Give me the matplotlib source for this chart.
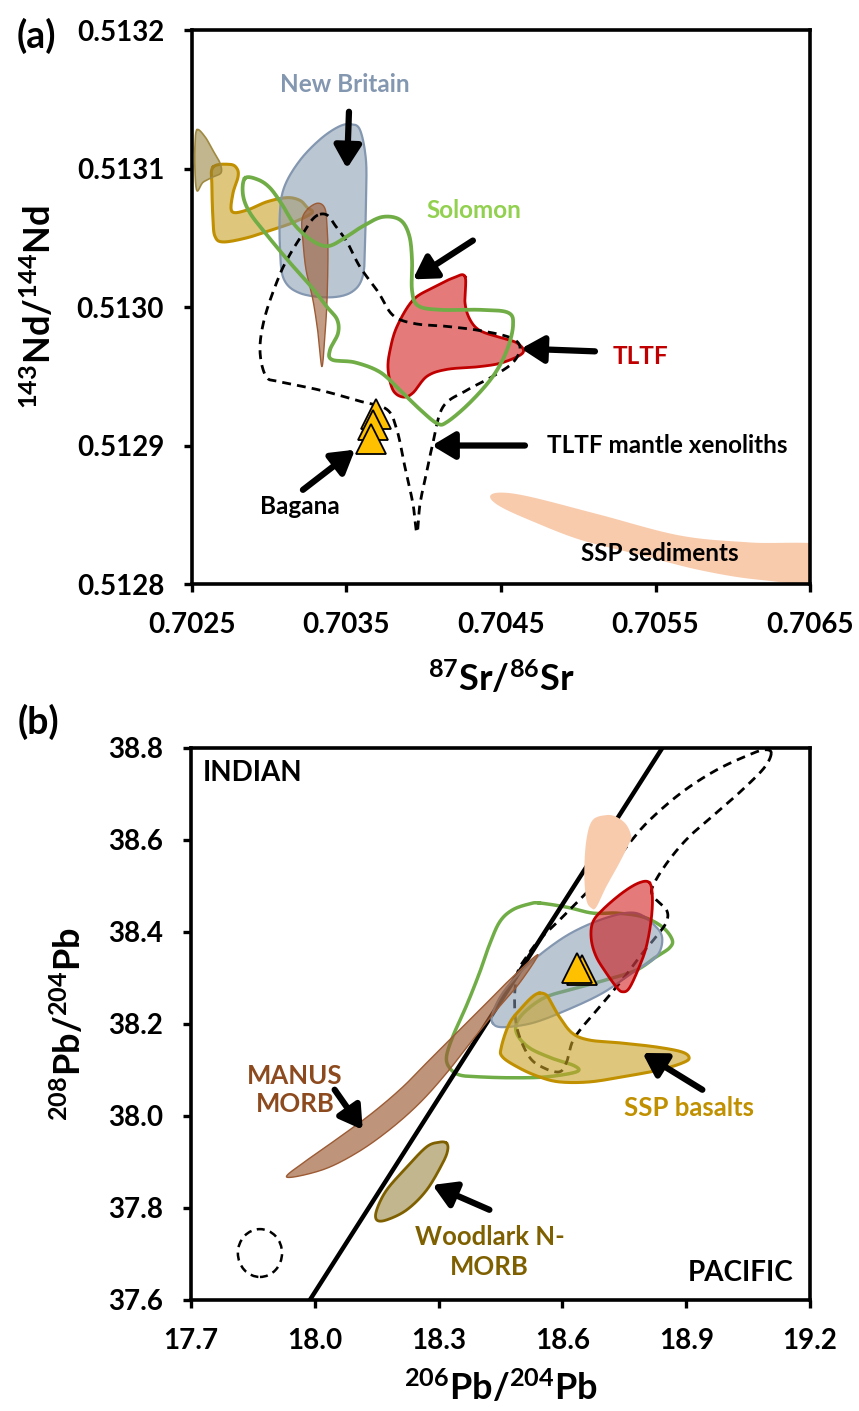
import numpy as np
import matplotlib.pyplot as plt
from matplotlib.patches import Ellipse

plt.rcParams['font.family'] = ['Lato', 'DejaVu Sans']
plt.rcParams['font.weight'] = 'bold'
plt.rcParams['mathtext.fontset'] = 'custom'
plt.rcParams['mathtext.bf'] = 'Lato:bold'
plt.rcParams['mathtext.rm'] = 'Lato:bold'
plt.rcParams['mathtext.default'] = 'bf'

# ---------------- (a) Sr-Nd field outlines ----------------
nb_sr = [0.703523, 0.703587, 0.703626, 0.703626, 0.70362, 0.703607, 0.703536, 0.703393,
         0.703199, 0.703095, 0.70307, 0.70307, 0.703102, 0.703199, 0.703328, 0.703445]
nb_nd = [0.513132, 0.513128, 0.513106, 0.513077, 0.513048, 0.513023, 0.513011, 0.513007,
         0.51301, 0.51302, 0.513041, 0.51307, 0.513088, 0.513106, 0.513121, 0.51313]

manus_a_sr = [0.703251, 0.703316, 0.703361, 0.703374, 0.70338, 0.703374, 0.703361, 0.703341,
              0.703316, 0.703283, 0.703238, 0.703218, 0.703212]
manus_a_nd = [0.513071, 0.513075, 0.513071, 0.513058, 0.513039, 0.513005, 0.512981, 0.512957,
              0.512981, 0.513005, 0.513027, 0.513048, 0.513063]

ssp_a_sr = [0.702636, 0.702746, 0.702791, 0.702798, 0.702765, 0.702759, 0.702856, 0.702985,
            0.703115, 0.703199, 0.703244, 0.703277, 0.703154, 0.703024, 0.702856, 0.702701,
            0.702649, 0.702636, 0.702629]
ssp_a_nd = [0.513101, 0.513103, 0.5131, 0.513094, 0.513082, 0.513069, 0.51307, 0.513076,
            0.513079, 0.513077, 0.513072, 0.513068, 0.513061, 0.513056, 0.51305, 0.513047,
            0.513051, 0.513063, 0.513087]

wood_a_sr = [0.702532, 0.702584, 0.702636, 0.702681, 0.702688, 0.702636, 0.702571, 0.702532,
             0.702519, 0.702519]
wood_a_nd = [0.513128, 0.513123, 0.513113, 0.513104, 0.513097, 0.513094, 0.51309, 0.513084,
             0.513099, 0.513116]

sol_a_sr = [0.702843, 0.702927, 0.703005, 0.703083, 0.703167, 0.703277, 0.70338, 0.70349,
            0.7036, 0.70373, 0.703846, 0.703905, 0.703924, 0.703924, 0.703963, 0.704105,
            0.704364, 0.704545, 0.704578, 0.704539, 0.704448, 0.704299, 0.704151, 0.704086,
            0.703976, 0.703846, 0.703717, 0.703555, 0.703406, 0.703393, 0.703445, 0.703439,
            0.703374, 0.703277, 0.703134, 0.702985, 0.702875, 0.70283]
sol_a_nd = [0.513093, 0.513092, 0.513086, 0.513074, 0.513059, 0.513048, 0.513044, 0.51305,
            0.513058, 0.513065, 0.513063, 0.513052, 0.513034, 0.513012, 0.513001, 0.512998,
            0.512998, 0.512996, 0.512987, 0.512969, 0.51295, 0.512931, 0.512917, 0.512916,
            0.512926, 0.51294, 0.512953, 0.51296, 0.512962, 0.512969, 0.512981, 0.512991,
            0.513, 0.513014, 0.513032, 0.513052, 0.513068, 0.513081]

tltf_a_sr = [0.704267, 0.704267, 0.704299, 0.704364, 0.704494, 0.704604, 0.704642, 0.704513,
             0.704364, 0.704151, 0.704021, 0.70393, 0.703866, 0.703801, 0.703769, 0.703782,
             0.703827, 0.70393, 0.70406, 0.70419]
tltf_a_nd = [0.513022, 0.513003, 0.512991, 0.512983, 0.512978, 0.512974, 0.512967, 0.51296,
             0.512957, 0.512955, 0.51295, 0.512938, 0.512935, 0.51294, 0.512955, 0.512969,
             0.512986, 0.513005, 0.513014, 0.513021]

xeno_a_sr = [0.703328, 0.70338, 0.703426, 0.703503, 0.703587, 0.703704, 0.703801, 0.703943,
             0.704151, 0.704364, 0.704558, 0.704623, 0.704578, 0.704448, 0.70428, 0.704125,
             0.70406, 0.704021, 0.703976, 0.703956, 0.70393, 0.703879, 0.703827, 0.703762,
             0.703587, 0.703328, 0.70307, 0.702979, 0.70294, 0.702972, 0.703063, 0.703134,
             0.703218, 0.703277]
xeno_a_nd = [0.513067, 0.513066, 0.513059, 0.513047, 0.513029, 0.513011, 0.512994, 0.512988,
             0.512986, 0.512983, 0.512978, 0.512971, 0.51296, 0.51295, 0.51294, 0.512928,
             0.512902, 0.512882, 0.512858, 0.512837, 0.512858, 0.512884, 0.512911, 0.512926,
             0.512932, 0.51294, 0.512946, 0.51295, 0.512969, 0.512993, 0.513022, 0.513038,
             0.513053, 0.513063]

sed_a_sr = [0.704429, 0.704494, 0.704688, 0.705141, 0.705659, 0.706112, 0.706629, 0.706629,
            0.706176, 0.705788, 0.7054, 0.705011, 0.704688, 0.704494]
sed_a_nd = [0.512863, 0.512866, 0.512863, 0.51285, 0.512835, 0.51283, 0.512827, 0.512801,
            0.512803, 0.51281, 0.512821, 0.512832, 0.512846, 0.512856]

bagana_sr = [0.70369, 0.70367, 0.70366]
bagana_nd = [0.512923, 0.512915, 0.512905]

sr_ticks = [0.7025, 0.7035, 0.7045, 0.7055, 0.7065]
nd_ticks = [0.5128, 0.5129, 0.5130, 0.5131, 0.5132]

# ---------------- (b) Pb-Pb field outlines ----------------
divide_206 = [17.988, 18.842]
divide_208 = [37.6, 38.8]

sed_b_206 = [18.706, 18.731, 18.755, 18.767, 18.762, 18.738, 18.706, 18.682, 18.67, 18.658,
             18.653, 18.658, 18.673]
sed_b_208 = [38.654, 38.65, 38.633, 38.607, 38.593, 38.55, 38.498, 38.454, 38.452, 38.47,
             38.528, 38.6, 38.643]

xeno_b_206 = [19.106, 19.089, 19.036, 18.973, 18.907, 18.859, 18.823, 18.818, 18.852, 18.852,
              18.83, 18.794, 18.745, 18.69, 18.648, 18.624, 18.61, 18.593, 18.556, 18.52,
              18.491, 18.484, 18.491, 18.513, 18.544, 18.593, 18.648, 18.706, 18.762, 18.811,
              18.89, 18.973, 19.052, 19.089]
xeno_b_208 = [38.789, 38.757, 38.709, 38.659, 38.607, 38.557, 38.507, 38.48, 38.448, 38.422,
              38.393, 38.354, 38.296, 38.237, 38.193, 38.161, 38.117, 38.096, 38.104, 38.128,
              38.187, 38.252, 38.311, 38.346, 38.383, 38.426, 38.476, 38.528, 38.593, 38.643,
              38.704, 38.752, 38.785, 38.796]

sol_b_206 = [18.544, 18.61, 18.673, 18.731, 18.794, 18.842, 18.866, 18.859, 18.827, 18.779,
             18.706, 18.634, 18.561, 18.513, 18.489, 18.491, 18.52, 18.573, 18.629, 18.634,
             18.561, 18.479, 18.399, 18.351, 18.327, 18.319, 18.334, 18.368, 18.399, 18.423,
             18.448, 18.479, 18.52]
sol_b_208 = [38.463, 38.454, 38.441, 38.441, 38.433, 38.411, 38.383, 38.365, 38.346, 38.317,
             38.296, 38.278, 38.259, 38.23, 38.202, 38.176, 38.148, 38.126, 38.109, 38.096,
             38.085, 38.083, 38.085, 38.089, 38.104, 38.128, 38.172, 38.241, 38.311, 38.372,
             38.422, 38.448, 38.461]

nb_b_206 = [18.431, 18.455, 18.527, 18.61, 18.697, 18.769, 18.827, 18.842, 18.827, 18.779,
            18.714, 18.634, 18.569, 18.503, 18.455, 18.431]
nb_b_208 = [38.202, 38.193, 38.202, 38.23, 38.267, 38.311, 38.346, 38.383, 38.411, 38.441,
            38.433, 38.404, 38.367, 38.317, 38.267, 38.224]

tltf_b_206 = [18.811, 18.786, 18.745, 18.697, 18.673, 18.67, 18.682, 18.706, 18.731, 18.745,
              18.762, 18.786, 18.803, 18.815, 18.818]
tltf_b_208 = [38.507, 38.507, 38.485, 38.448, 38.42, 38.383, 38.346, 38.311, 38.28, 38.27,
              38.278, 38.324, 38.367, 38.426, 38.476]

ssp_b_206 = [18.544, 18.561, 18.573, 18.593, 18.624, 18.665, 18.738, 18.827, 18.89, 18.907,
             18.89, 18.835, 18.745, 18.665, 18.593, 18.544, 18.496, 18.455, 18.452, 18.472,
             18.503, 18.527]
ssp_b_208 = [38.267, 38.263, 38.246, 38.215, 38.18, 38.165, 38.159, 38.15, 38.139, 38.126,
             38.115, 38.1, 38.085, 38.074, 38.074, 38.085, 38.104, 38.128, 38.15, 38.202,
             38.237, 38.259]

manus_b_206 = [18.54, 18.479, 18.431, 18.382, 18.334, 18.278, 18.213, 18.14, 18.06, 17.981,
               17.932, 18.019, 18.102, 18.181, 18.254, 18.319, 18.382, 18.44, 18.496]
manus_b_208 = [38.35, 38.302, 38.259, 38.215, 38.172, 38.122, 38.063, 38.007, 37.954, 37.904,
               37.867, 37.883, 37.92, 37.97, 38.028, 38.093, 38.165, 38.23, 38.289]

wood_b_206 = [18.319, 18.302, 18.271, 18.223, 18.174, 18.15, 18.15, 18.174, 18.223, 18.271,
              18.31, 18.322]
wood_b_208 = [37.941, 37.943, 37.933, 37.889, 37.839, 37.796, 37.774, 37.774, 37.796, 37.839,
              37.898, 37.926]

bagana_206 = [18.648, 18.636]
bagana_208 = [38.318, 38.322]

err_206, err_208 = 17.867, 37.702
err_w, err_h = 0.107, 0.104

pb206_ticks = [17.7, 18.0, 18.3, 18.6, 18.9, 19.2]
pb208_ticks = [37.6, 37.8, 38.0, 38.2, 38.4, 38.6, 38.8]

# colours
C_NB = '#8497b0'
C_MANUS = '#9c5b34'
C_SSP = '#c9a227'
C_SSP_EDGE = '#c09000'
C_WOOD = '#8f7a30'
C_WOOD_EDGE = '#7f6000'
C_TLTF = '#cc0000'
C_TLTF_EDGE = '#c00000'
C_SOL = '#70ad47'
C_SED = '#f8cbad'
C_BAG = '#ffc000'
DASH = (0, (3.2, 2.2))


def smooth_closed(x, y, n=20):
    """Closed Catmull-Rom curve through the outline vertices."""
    p = np.column_stack([x, y]).astype(float)
    p0 = np.roll(p, 1, axis=0)
    p1 = p
    p2 = np.roll(p, -1, axis=0)
    p3 = np.roll(p, -2, axis=0)
    t = np.linspace(0, 1, n, endpoint=False)[None, :, None]
    a, b, c, d = (p0[:, None], p1[:, None], p2[:, None], p3[:, None])
    pts = 0.5 * (2 * b + (-a + c) * t + (2 * a - 5 * b + 4 * c - d) * t ** 2
                 + (-a + 3 * b - 3 * c + d) * t ** 3)
    pts = pts.reshape(-1, 2)
    pts = np.vstack([pts, pts[:1]])
    return pts[:, 0], pts[:, 1]


def field(ax, x, y, face=None, alpha=1.0, edge=None, lw=1.5, ls='-', z=2):
    sx, sy = smooth_closed(x, y)
    if face is not None:
        ax.fill(sx, sy, facecolor=face, alpha=alpha, edgecolor='none', zorder=z)
    if edge is not None:
        ax.plot(sx, sy, color=edge, lw=lw, ls=ls, zorder=z + 0.1,
                solid_joinstyle='round')


def arrow(ax, tail, head):
    ax.annotate('', xy=head, xytext=tail, zorder=12,
                arrowprops=dict(arrowstyle='-|>,head_length=0.75,head_width=0.45',
                                color='black', lw=4.5, mutation_scale=18,
                                shrinkA=0, shrinkB=0))


def style_axes(ax):
    for s in ax.spines.values():
        s.set_linewidth(2.6)
    ax.tick_params(direction='out', length=6, width=2.4, labelsize=20, pad=14)
    for lab in ax.get_xticklabels() + ax.get_yticklabels():
        lab.set_fontweight('bold')


fig = plt.figure(figsize=(8.59, 14.11), dpi=100)
ax1 = fig.add_axes([0.2235, 0.5861, 0.7195, 0.3926])
ax2 = fig.add_axes([0.2224, 0.0787, 0.7206, 0.3912])

# ---------------- panel (a) ----------------
field(ax1, sed_a_sr, sed_a_nd, face=C_SED, z=1)
field(ax1, ssp_a_sr, ssp_a_nd, face=C_SSP, alpha=0.6, edge=C_SSP_EDGE, lw=2.2, z=2)
field(ax1, wood_a_sr, wood_a_nd, face=C_WOOD, alpha=0.55, edge='#a08a40', lw=1.2, z=3)
field(ax1, nb_sr, nb_nd, face=C_NB, alpha=0.55, edge=C_NB, lw=1.6, z=4)
field(ax1, manus_a_sr, manus_a_nd, face=C_MANUS, alpha=0.6, edge=C_MANUS, lw=1, z=5)
field(ax1, tltf_a_sr, tltf_a_nd, face=C_TLTF, alpha=0.52, edge=C_TLTF_EDGE, lw=2, z=6)
field(ax1, xeno_a_sr, xeno_a_nd, edge='black', lw=2, ls=DASH, z=7)
field(ax1, sol_a_sr, sol_a_nd, edge=C_SOL, lw=2.7, z=8)
ax1.plot(bagana_sr, bagana_nd, ls='none', marker='^', ms=21, mfc=C_BAG, mec='black',
         mew=1.3, zorder=9)

ax1.text(0.70349, 0.513161, 'New Britain', color=C_NB, fontsize=17.5, ha='center',
         va='center')
arrow(ax1, (0.703516, 0.513141), (0.703503, 0.5131))
ax1.text(0.704325, 0.51307, 'Solomon', color='#92d050', fontsize=17.5, ha='center',
         va='center')
arrow(ax1, (0.704318, 0.513048), (0.70393, 0.51302))
ax1.text(0.7054, 0.512964, 'TLTF', color=C_TLTF_EDGE, fontsize=17.5, ha='center',
         va='center')
arrow(ax1, (0.705108, 0.512968), (0.70463, 0.51297))
ax1.text(0.705574, 0.5129, 'TLTF mantle xenoliths', color='black', fontsize=17.5,
         ha='center', va='center')
arrow(ax1, (0.704655, 0.5129), (0.704053, 0.5129))
ax1.text(0.703199, 0.512856, 'Bagana', color='black', fontsize=17.5, ha='center',
         va='center')
arrow(ax1, (0.703218, 0.512868), (0.703555, 0.512897))
ax1.text(0.705529, 0.512822, 'SSP sediments', color='black', fontsize=17.5,
         ha='center', va='center')

ax1.set_xlim(0.7025, 0.7065)
ax1.set_ylim(0.5128, 0.5132)
ax1.set_xticks(sr_ticks, [f'{v:.4f}' for v in sr_ticks])
ax1.set_yticks(nd_ticks, [f'{v:.4f}' for v in nd_ticks])
style_axes(ax1)
ax1.set_xlabel(r'$\mathbf{{}^{87}Sr/{}^{86}Sr}$', fontsize=26)
ax1.set_ylabel(r'$\mathbf{{}^{143}Nd/{}^{144}Nd}$', fontsize=26)
ax1.xaxis.set_label_coords(0.5, -0.17)
ax1.xaxis.label.set_va('center')
ax1.yaxis.set_label_coords(-0.249, 0.5)
ax1.yaxis.label.set_va('center')
fig.text(36 / 859, 1 - 36 / 1411, '(a)', fontsize=27, ha='center', va='center')

# ---------------- panel (b) ----------------
field(ax2, sol_b_206, sol_b_208, edge=C_SOL, lw=2.5, z=2)
field(ax2, xeno_b_206, xeno_b_208, edge='black', lw=2, ls=DASH, z=3)
ax2.plot(divide_206, divide_208, color='black', lw=3.2, zorder=4)
field(ax2, nb_b_206, nb_b_208, face=C_NB, alpha=0.55, edge=C_NB, lw=1.6, z=5)
field(ax2, tltf_b_206, tltf_b_208, face=C_TLTF, alpha=0.52, edge=C_TLTF_EDGE, lw=2, z=6)
field(ax2, ssp_b_206, ssp_b_208, face=C_SSP, alpha=0.6, edge=C_SSP_EDGE, lw=2.2, z=7)
field(ax2, manus_b_206, manus_b_208, face=C_MANUS, alpha=0.65, edge=C_MANUS, lw=1, z=8)
field(ax2, wood_b_206, wood_b_208, face=C_WOOD, alpha=0.55, edge=C_WOOD_EDGE, lw=2, z=8)
field(ax2, sed_b_206, sed_b_208, face=C_SED, z=9)
ax2.plot(bagana_206, bagana_208, ls='none', marker='^', ms=22, mfc=C_BAG, mec='black',
         mew=1.3, zorder=10)
ax2.add_patch(Ellipse((err_206, err_208), err_w, err_h, fill=False, ec='black',
                      lw=1.8, ls=DASH, zorder=3))

ax2.text(17.729, 38.746, 'INDIAN', fontsize=20, ha='left', va='center')
ax2.text(19.161, 37.659, 'PACIFIC', fontsize=20, ha='right', va='center')
ax2.text(17.952, 38.057, 'MANUS\nMORB', color='#8c4a1e', fontsize=18.5, ha='center',
         va='center', linespacing=1.2)
arrow(ax2, (18.048, 38.057), (18.116, 37.97))
ax2.text(18.907, 38.017, 'SSP basalts', color=C_SSP_EDGE, fontsize=18.5, ha='center',
         va='center')
arrow(ax2, (18.939, 38.057), (18.794, 38.137))
ax2.text(18.423, 37.704, 'Woodlark N-\nMORB', color=C_WOOD_EDGE, fontsize=18.5,
         ha='center', va='center', linespacing=1.3)
arrow(ax2, (18.423, 37.796), (18.285, 37.85))

ax2.set_xlim(17.7, 19.2)
ax2.set_ylim(37.6, 38.8)
ax2.set_xticks(pb206_ticks, [f'{v:.1f}' for v in pb206_ticks])
ax2.set_yticks(pb208_ticks, [f'{v:.1f}' for v in pb208_ticks])
style_axes(ax2)
ax2.set_xlabel(r'$\mathbf{{}^{206}Pb/{}^{204}Pb}$', fontsize=26)
ax2.set_ylabel(r'$\mathbf{{}^{208}Pb/{}^{204}Pb}$', fontsize=26)
ax2.xaxis.set_label_coords(0.5, -0.158)
ax2.xaxis.label.set_va('center')
ax2.yaxis.set_label_coords(-0.199, 0.5)
ax2.yaxis.label.set_va('center')
fig.text(38 / 859, 1 - 722 / 1411, '(b)', fontsize=27, ha='center', va='center')

fig.savefig('out.png', dpi=100)
